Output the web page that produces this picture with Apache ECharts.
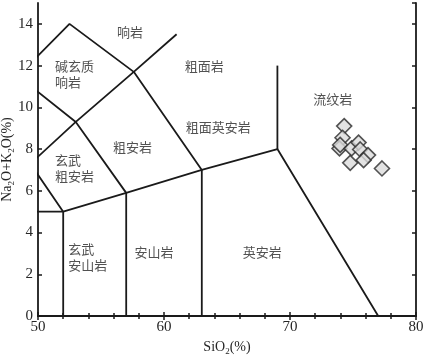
<!DOCTYPE html>
<html><head><meta charset="utf-8">
<script src="https://cdn.jsdelivr.net/npm/echarts@6/dist/echarts.min.js"></script>
<style>html,body{margin:0;padding:0;background:#fff}#c{width:425px;height:355px}</style>
</head><body><div id="c"></div>
<script>
// TAS classification boundary lines (SiO2, Na2O+K2O)
const boundaries = [
  [[45,9.4],[48.4,11.5],[52.5,14],[57.6,11.7],[63,7]],
  [[48.4,11.5],[53,9.3],[57,5.9]],
  [[45,9.4],[49.4,7.3],[53,9.3],[57.6,11.7],[61,13.5]],
  [[45,5],[52,5],[57,5.9],[63,7],[69,8],[77,0]],
  [[49.4,7.3],[52,5],[52,0]],
  [[57,5.9],[57,0]],
  [[63,7],[63,0]],
  [[69,8],[69,12]]
];
// sample points
const sio2 = [74.30,74.17,73.93,73.98,74.89,75.44,75.57,76.19,75.84,74.78,77.30];
const alk  = [9.10, 8.54, 8.03, 8.20, 8.03, 8.31, 7.98, 7.71, 7.47, 7.34, 7.07];
// region labels (single-line: centre; two-line: left edge)
const regionNames = ['响岩','碱玄质\n响岩','粗面岩','流纹岩','粗面英安岩','粗安岩','玄武\n粗安岩','玄武\n安山岩','安山岩','英安岩'];
const regionX = [57.3,51.35,63.2,73.4,64.3,57.5,51.35,52.4,59.2,67.8];
const regionY = [13.6,11.6,12.0,10.4,9.07,8.1,7.1,2.84,3.06,3.06];
const xTicks = [50,60,70,80];
const yTicks = [0,2,4,6,8,10,12,14];

const chart = echarts.init(document.getElementById('c'));
const serif = 'Liberation Serif';
const cjk = 'Noto Sans CJK SC';
const lineCol = '#1a1a1a';
const txtCol = '#262626';
const series = boundaries.map(b => ({
  type:'line', data:b, symbol:'none', silent:true, clip:true,
  lineStyle:{color:lineCol,width:1.8}, z:2
}));
series.push({
  type:'scatter', data: sio2.map((x,i)=>[x,alk[i]]), symbol:'diamond', symbolSize:15,
  itemStyle:{color:'#dcdcdc',borderColor:'#2a2a2a',borderWidth:1.6}, z:5
});
series.push({
  type:'scatter',
  data: regionNames.map((n,i)=>({value:[regionX[i],regionY[i]],name:n,
    label:{align: n.indexOf('\n')>=0 ? 'left' : 'center'}})),
  symbolSize:0, silent:true, z:4,
  label:{show:true,position:'inside',formatter:p=>p.name,fontFamily:cjk,fontSize:13,color:txtCol,lineHeight:16},
  labelLayout:{hideOverlap:false}
});

chart.setOption({
  animation:false,
  grid:{left:38,right:9,top:3,bottom:39,containLabel:false,outerBoundsMode:'none'},
  xAxis:[{
    type:'value',min:50,max:80,interval:10,
    axisLine:{lineStyle:{color:lineCol,width:1.8}},
    axisTick:{inside:true,length:4,lineStyle:{color:lineCol,width:1.5}},
    minorTick:{show:true,splitNumber:5,length:3,lineStyle:{color:lineCol,width:1.5}},
    splitLine:{show:false},
    axisLabel:{fontFamily:serif,fontSize:15,color:txtCol,margin:4,
      formatter:v=>xTicks.includes(v)?String(v):''},
    name:'SiO{s|2}(%)',nameLocation:'middle',nameGap:23,nameMoveOverlap:false,
    nameTextStyle:{fontFamily:serif,fontSize:14,color:txtCol,rich:{s:{fontFamily:serif,fontSize:9,verticalAlign:'bottom',padding:[8,0,0,0]}}}
  },{
    type:'value',min:50,max:80,interval:10,position:'top',
    axisLine:{lineStyle:{color:lineCol,width:1.8}},
    axisTick:{inside:true,length:4,lineStyle:{color:lineCol,width:1.5}},
    minorTick:{show:true,splitNumber:5,length:3,lineStyle:{color:lineCol,width:1.5}},
    axisLabel:{show:false},splitLine:{show:false}
  }],
  yAxis:[{
    type:'value',min:0,max:15,interval:2,
    axisLine:{lineStyle:{color:lineCol,width:1.8}},
    axisTick:{inside:true,length:4,lineStyle:{color:lineCol,width:1.5}},
    splitLine:{show:false},
    axisLabel:{fontFamily:serif,fontSize:15,color:txtCol,margin:5,showMaxLabel:false,
      formatter:v=>yTicks.includes(v)?String(v):''},
    name:'Na{s|2}O+K{s|2}O(%)',nameLocation:'middle',nameGap:22,nameRotate:90,nameMoveOverlap:false,
    nameTextStyle:{fontFamily:serif,fontSize:14,color:txtCol,rich:{s:{fontFamily:serif,fontSize:9,verticalAlign:'bottom',padding:[8,0,0,0]}}}
  },{
    type:'value',min:0,max:15,interval:2,position:'right',
    axisLine:{lineStyle:{color:lineCol,width:1.8}},
    axisTick:{inside:true,length:4,lineStyle:{color:lineCol,width:1.5}},
    axisLabel:{show:false},splitLine:{show:false}
  }],
  series:series
});
</script></body></html>
